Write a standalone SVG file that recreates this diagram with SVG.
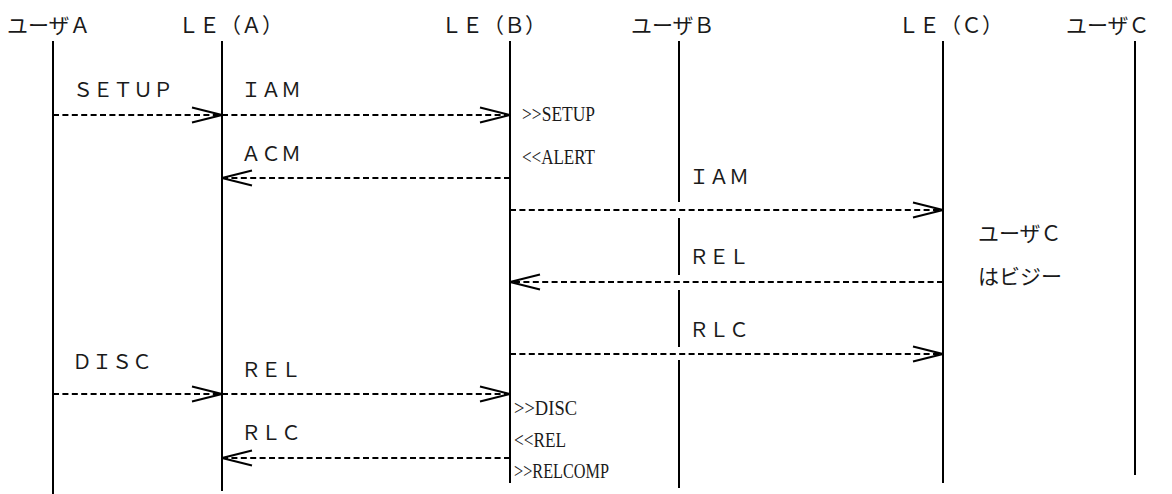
<svg xmlns="http://www.w3.org/2000/svg" width="1172" height="494" viewBox="0 0 1172 494">
<style>
.hd{font-family:"Noto Sans CJK JP","Noto Sans",sans-serif;font-size:21px;fill:#1a1a1a}
.lb{font-family:"Noto Sans CJK JP","Noto Sans",sans-serif;font-size:20px;fill:#1a1a1a}
.sm{font-family:"Liberation Serif","Noto Sans CJK JP",serif;font-size:21px;fill:#1a1a1a}
.life{stroke:#000;stroke-width:2;fill:none}
.msg{stroke:#000;stroke-width:2;stroke-dasharray:6 3.4;fill:none;marker-end:url(#arr)}
</style>
<defs>
<marker id="arr" viewBox="-32 -10 34 20" markerWidth="34" markerHeight="20" refX="0" refY="0" markerUnits="userSpaceOnUse" orient="auto" overflow="visible">
<path d="M-30,-7.5 L0,0 L-30,7.5" fill="none" stroke="#000" stroke-width="2"/>
</marker>
</defs>
<rect width="1172" height="494" fill="#fff"/>
<g id="userA">
<text class="hd" x="7" y="33">ユーザＡ</text>
<line class="life" x1="53" y1="41" x2="53" y2="494"/>
</g>
<g id="leA">
<text class="hd" x="178" y="33">ＬＥ（Ａ）</text>
<line class="life" x1="222" y1="41" x2="222" y2="491"/>
</g>
<g id="leB">
<text class="hd" x="441" y="33">ＬＥ（Ｂ）</text>
<line class="life" x1="510" y1="41" x2="510" y2="483"/>
</g>
<g id="userB">
<text class="hd" x="631" y="33">ユーザＢ</text>
<path class="life" d="M679,41 V202 M679,218 V275 M679,290 V347 M679,360 V488"/>
</g>
<g id="leC">
<text class="hd" x="898" y="33">ＬＥ（Ｃ）</text>
<line class="life" x1="943" y1="41" x2="943" y2="483"/>
</g>
<g id="userC">
<text class="hd" x="1066" y="33">ユーザＣ</text>
<line class="life" x1="1135" y1="41" x2="1135" y2="475"/>
</g>
<g id="note">
<text class="hd" x="978" y="241">ユーザＣ</text>
<text class="hd" x="978" y="284">はビジー</text>
</g>
<g id="connectors">
<line class="msg" x1="53" y1="115" x2="222" y2="115"/>
<line class="msg" x1="222" y1="115" x2="510" y2="115"/>
<line class="msg" x1="510" y1="178" x2="222" y2="178"/>
<line class="msg" x1="510" y1="210" x2="943" y2="210"/>
<line class="msg" x1="943" y1="282" x2="510" y2="282"/>
<line class="msg" x1="510" y1="354" x2="943" y2="354"/>
<line class="msg" x1="53" y1="394" x2="222" y2="394"/>
<line class="msg" x1="222" y1="394" x2="510" y2="394"/>
<line class="msg" x1="510" y1="458" x2="222" y2="458"/>
</g>
<g id="labels">
<text class="lb" x="73" y="97">ＳＥＴＵＰ</text>
<text class="lb" x="241" y="97">ＩＡＭ</text>
<text class="lb" x="241" y="161">ＡＣＭ</text>
<text class="lb" x="689" y="184">ＩＡＭ</text>
<text class="lb" x="689" y="264">ＲＥＬ</text>
<text class="lb" x="689" y="337">ＲＬＣ</text>
<text class="lb" x="72" y="369">ＤＩＳＣ</text>
<text class="lb" x="241" y="377">ＲＥＬ</text>
<text class="lb" x="241" y="440">ＲＬＣ</text>
<text class="sm" x="522" y="121" textLength="73" lengthAdjust="spacingAndGlyphs">&gt;&gt;SETUP</text>
<text class="sm" x="522" y="164" textLength="73" lengthAdjust="spacingAndGlyphs">&lt;&lt;ALERT</text>
<text class="sm" x="514" y="415" textLength="63" lengthAdjust="spacingAndGlyphs">&gt;&gt;DISC</text>
<text class="sm" x="514" y="447" textLength="52" lengthAdjust="spacingAndGlyphs">&lt;&lt;REL</text>
<text class="sm" x="514" y="478" textLength="95" lengthAdjust="spacingAndGlyphs">&gt;&gt;RELCOMP</text>
</g>
</svg>
